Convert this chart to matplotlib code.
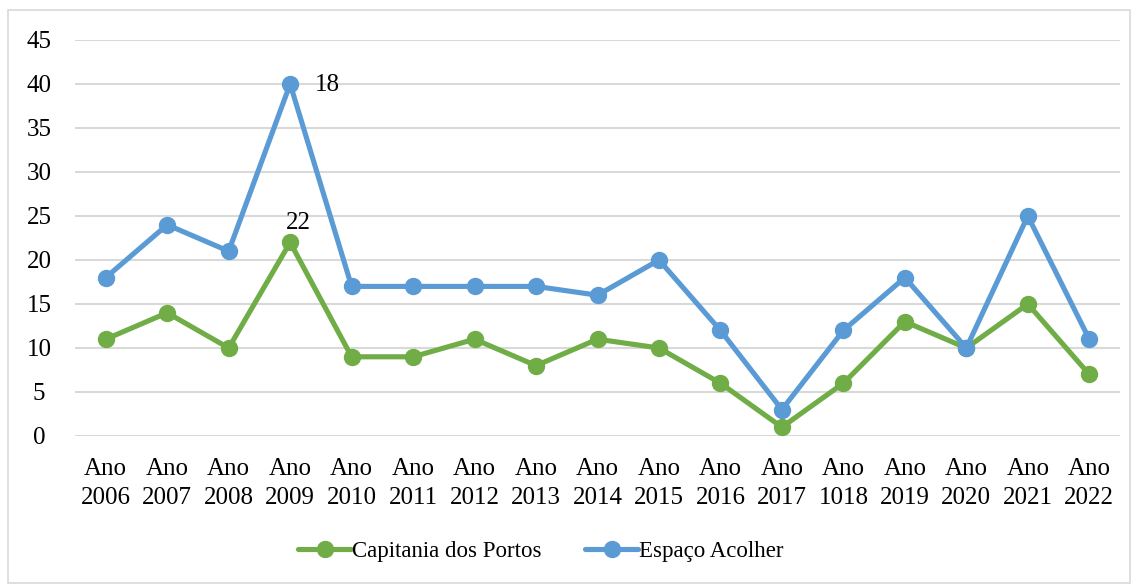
import matplotlib
matplotlib.use("Agg")
import matplotlib.pyplot as plt
from matplotlib.patches import Rectangle

categories = ["Ano\n2006", "Ano\n2007", "Ano\n2008", "Ano\n2009", "Ano\n2010", "Ano\n2011",
              "Ano\n2012", "Ano\n2013", "Ano\n2014", "Ano\n2015", "Ano\n2016", "Ano\n2017",
              "Ano\n1018", "Ano\n2019", "Ano\n2020", "Ano\n2021", "Ano\n2022"]
capitania = [11, 14, 10, 22, 9, 9, 11, 8, 11, 10, 6, 1, 6, 13, 10, 15, 7]
espaco = [18, 24, 21, 40, 17, 17, 17, 17, 16, 20, 12, 3, 12, 18, 10, 25, 11]
yticks = [0, 5, 10, 15, 20, 25, 30, 35, 40, 45]

plt.rcParams['font.family'] = ['Liberation Serif', 'DejaVu Serif']

fig = plt.figure(figsize=(11.38, 5.85), dpi=100)
ax = fig.add_axes([75/1138, 1 - 436/585, (1120-75)/1138, (436-40)/585])

x = list(range(len(categories)))
green = "#70AD47"
blue = "#5B9BD5"
ax.plot(x, capitania, color=green, lw=3.7, marker='o', ms=11.5, label="Capitania dos Portos",
        solid_capstyle='round', solid_joinstyle='round', zorder=3)
ax.plot(x, espaco, color=blue, lw=3.7, marker='o', ms=11.5, label="Espaço Acolher",
        solid_capstyle='round', solid_joinstyle='round', zorder=3)

ax.set_xlim(-0.5, len(categories) - 0.5)
ax.set_ylim(0, 45)
ax.set_yticks(yticks)
ax.set_xticks(x)
ax.set_xticklabels(categories, fontsize=18, linespacing=1.42)
ax.tick_params(axis='y', labelsize=18, length=0, pad=26)
ax.tick_params(axis='x', length=0, pad=16)
for lab in ax.get_yticklabels():
    lab.set_horizontalalignment('center')
ax.grid(axis='y', color='#D9D9D9', lw=1.5)
ax.set_axisbelow(True)
for s in ax.spines.values():
    s.set_visible(False)

ax.annotate("18", (3, espaco[3]), xytext=(18, -1), textcoords='offset points',
            fontsize=18, va='center', ha='left')
ax.annotate("22", (3, capitania[3]), xytext=(6, 6), textcoords='offset points',
            fontsize=18, va='bottom', ha='center')

leg = fig.legend(loc='center', bbox_to_anchor=(541/1138, 1 - 551/585), ncol=2, frameon=False,
                 fontsize=16.5, handlelength=2.3, handletextpad=0.05, columnspacing=1.9)

fig.patches.append(Rectangle((8/1138, 2/585), 1122/1138, 573/585, transform=fig.transFigure,
                             fill=False, edgecolor='#D9D9D9', lw=1.2))

fig.savefig("out.png", dpi=100)
